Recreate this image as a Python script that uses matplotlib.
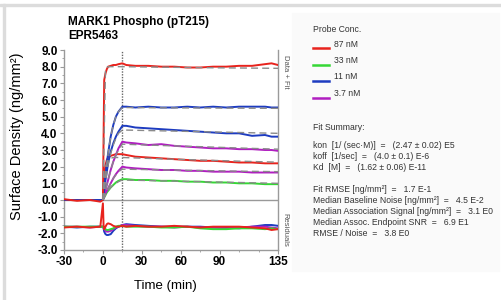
import matplotlib
matplotlib.use("Agg")
import matplotlib.pyplot as plt
from matplotlib.lines import Line2D
from matplotlib.patches import Rectangle
import numpy as np

plt.rcParams['font.family'] = ['Liberation Sans', 'DejaVu Sans']

# ---------------- data ----------------
t = [-30, -20, -10, -2, 0, 1, 2, 3, 4, 6, 8, 10, 12, 15, 18, 25, 35, 45, 55, 65, 75, 85, 95, 105, 115, 125, 130, 135]

red_a = [0.05, -0.05, 0.0, -0.1, 0.0, 7.2, 7.6, 7.85, 8.0, 8.05, 8.1, 8.1, 8.15, 8.2, 8.1, 8.05, 8.05, 8.0, 8.0, 7.95, 7.95, 8.0, 8.0, 8.05, 8.05, 8.15, 8.2, 8.1]
blue_a = [0.0, 0.0, 0.0, 0.0, 0.0, 0.8, 1.5, 2.2, 2.8, 3.8, 4.5, 5.0, 5.3, 5.6, 5.6, 5.55, 5.6, 5.55, 5.55, 5.6, 5.55, 5.6, 5.55, 5.6, 5.6, 5.6, 5.55, 5.55]
blue_b = [0.0, 0.0, 0.0, 0.0, 0.0, 0.6, 1.2, 1.7, 2.2, 2.9, 3.4, 3.8, 4.1, 4.45, 4.45, 4.35, 4.3, 4.25, 4.2, 4.15, 4.1, 4.05, 4.0, 4.0, 3.85, 3.9, 3.8, 3.8]
mag_a = [0.0, 0.0, 0.0, 0.0, 0.0, 0.3, 0.6, 0.9, 1.2, 1.8, 2.3, 2.7, 3.1, 3.5, 3.45, 3.4, 3.3, 3.35, 3.25, 3.2, 3.15, 3.1, 3.1, 3.05, 3.05, 3.0, 3.0, 2.95]
red_b = [0.0, 0.0, 0.0, 0.0, 0.0, 1.5, 2.1, 2.4, 2.55, 2.65, 2.7, 2.75, 2.75, 2.75, 2.7, 2.6, 2.55, 2.5, 2.45, 2.4, 2.35, 2.35, 2.3, 2.25, 2.25, 2.2, 2.2, 2.2]
mag_b = [0.0, 0.0, 0.0, 0.0, 0.0, 0.2, 0.4, 0.55, 0.7, 1.0, 1.3, 1.55, 1.75, 2.0, 1.95, 1.9, 1.85, 1.8, 1.8, 1.75, 1.75, 1.7, 1.7, 1.7, 1.65, 1.65, 1.65, 1.65]
green = [0.0, 0.0, 0.0, 0.0, 0.0, 0.15, 0.3, 0.45, 0.55, 0.75, 0.9, 1.05, 1.15, 1.25, 1.25, 1.2, 1.2, 1.15, 1.15, 1.1, 1.1, 1.05, 1.05, 1.0, 1.0, 0.95, 0.95, 0.95]

# fits (gray dashed)
t_fit = [0, 2, 4, 6, 8, 10, 12, 15, 45, 75, 105, 135]
fit_red_a = [0.0, 7.9, 8.0, 8.0, 8.0, 8.0, 8.0, 8.0, 7.97, 7.94, 7.92, 7.9]
fit_blue_a = [0.0, 1.5, 2.8, 3.8, 4.5, 5.0, 5.3, 5.55, 5.53, 5.52, 5.51, 5.5]
fit_blue_b = [0.0, 1.1, 2.1, 2.8, 3.3, 3.7, 4.0, 4.2, 4.15, 4.1, 4.05, 4.0]
fit_mag_a = [0.0, 0.6, 1.2, 1.8, 2.3, 2.7, 3.0, 3.35, 3.27, 3.2, 3.12, 3.05]
fit_red_b = [0.0, 2.0, 2.4, 2.5, 2.55, 2.55, 2.55, 2.55, 2.47, 2.4, 2.33, 2.27]
fit_mag_b = [0.0, 0.4, 0.7, 1.0, 1.3, 1.5, 1.7, 1.85, 1.81, 1.77, 1.73, 1.7]
fit_green = [0.0, 0.3, 0.55, 0.75, 0.9, 1.0, 1.1, 1.2, 1.15, 1.1, 1.05, 1.0]

# residuals (plotted with offset already included)
res_t = [-30, -20, -10, -2, 0, 0.5, 1, 2, 3, 4, 6, 8, 10, 12, 15, 18, 25, 35, 45, 55, 65, 75, 85, 95, 105, 115, 125, 130, 135]
res_blue = [-1.6, -1.65, -1.6, -1.6, -1.6, -1.7, -1.9, -2.05, -2.1, -2.1, -2.05, -1.85, -1.7, -1.6, -1.5, -1.45, -1.5, -1.55, -1.6, -1.6, -1.6, -1.6, -1.65, -1.65, -1.7, -1.6, -1.5, -1.5, -1.55]
res_mag = [-1.6, -1.6, -1.65, -1.6, -1.6, -1.65, -1.75, -1.85, -1.9, -1.9, -1.85, -1.75, -1.65, -1.6, -1.5, -1.5, -1.55, -1.6, -1.6, -1.65, -1.6, -1.65, -1.65, -1.7, -1.65, -1.6, -1.6, -1.65, -1.7]
res_green = [-1.6, -1.6, -1.6, -1.6, -1.6, -1.65, -1.7, -1.75, -1.8, -1.8, -1.75, -1.7, -1.6, -1.55, -1.55, -1.6, -1.6, -1.6, -1.65, -1.65, -1.6, -1.7, -1.75, -1.75, -1.7, -1.7, -1.75, -1.7, -1.75]
res_red = [-1.65, -1.6, -1.65, -1.6, -0.2, -1.5, -1.75, -1.6, -1.45, -1.4, -1.45, -1.55, -1.6, -1.6, -1.55, -1.6, -1.55, -1.6, -1.6, -1.55, -1.6, -1.65, -1.6, -1.6, -1.6, -1.65, -1.7, -1.8, -1.75]

legend_labels = ['87 nM', '33 nM', '11 nM', '3.7 nM']
c_red, c_green, c_blue, c_mag = '#e8231d', '#35d735', '#1e3cc0', '#b01ec0'
legend_colors = [c_red, c_green, c_blue, c_mag]

x_ticks = [-30, 0, 30, 60, 90, 135]
y_ticks = [-3, -2, -1, 0, 1, 2, 3, 4, 5, 6, 7, 8, 9]

summary_lines = [
    "kon  [1/ (sec\u00b7M)]  =   (2.47 \u00b1 0.02) E5",
    "koff  [1/sec]  =   (4.0 \u00b1 0.1) E-6",
    "Kd  [M]  =   (1.62 \u00b1 0.06) E-11",
    "",
    "Fit RMSE [ng/mm\u00b2]  =   1.7 E-1",
    "Median Baseline Noise [ng/mm\u00b2]  =   4.5 E-2",
    "Median Association Signal [ng/mm\u00b2]  =   3.1 E0",
    "Median Assoc. Endpoint SNR  =   6.9 E1",
    "RMSE / Noise  =   3.8 E0",
]

# ---------------- figure ----------------
W, H = 502, 300
fig = plt.figure(figsize=(W / 100, H / 100), dpi=100)
fig.patch.set_facecolor('white')

def fx(px):
    return px / W

def fy(py):
    return 1 - py / H

# outer frame bars
fig.patches.append(Rectangle((fx(0), fy(6)), 1, 2 / H, transform=fig.transFigure, color='#dcdcdc', zorder=0))
fig.patches.append(Rectangle((fx(3), 0), 2 / W, fy(4), transform=fig.transFigure, color='#dcdcdc', zorder=0))
# right panel background
fig.patches.append(Rectangle((fx(292), fy(271)), fx(499) - fx(292), (271 - 13) / H,
                             transform=fig.transFigure, color='#fafafa', zorder=0))

ax = fig.add_axes([fx(64), fy(250), fx(278) - fx(64), (250 - 50) / H])
ax.set_facecolor('white')
ax.set_xlim(-30, 135)
ax.set_ylim(-3, 9)

lw = 1.4
# zero baseline
ax.axhline(0, color='#999999', lw=1.0, zorder=1)
ax.axvline(15, color='#666666', lw=1.0, ls=(0, (1, 1)), zorder=1)

# data curves
for y, c in [(green, c_green), (mag_b, c_mag), (red_b, c_red), (mag_a, c_mag),
             (blue_b, c_blue), (blue_a, c_blue), (red_a, c_red)]:
    ax.plot(t, y, color=c, lw=lw, zorder=3)

for y in [fit_red_a, fit_blue_a, fit_blue_b, fit_mag_a, fit_red_b, fit_mag_b, fit_green]:
    ax.plot(t_fit, y, color='#8a8a8a', lw=1.0, ls=(0, (5, 3)), zorder=4)

for y, c in [(res_blue, c_blue), (res_mag, c_mag), (res_green, c_green), (res_red, c_red)]:
    ax.plot(res_t, y, color=c, lw=lw, zorder=3)

# axes styling
ax.spines['top'].set_visible(False)
for s in ['left', 'bottom', 'right']:
    ax.spines[s].set_color('#9a9a9a')
    ax.spines[s].set_linewidth(1.0)

ax.set_xticks(x_ticks)
ax.set_xticklabels([str(v) for v in x_ticks])
ax.set_xticks(list(range(-30, 136, 15)), minor=True)
ax.set_yticks(y_ticks)
ax.set_yticklabels(['%.1f' % v for v in y_ticks])
ax.set_yticks(list(np.arange(-3, 9.01, 0.5)), minor=True)
ax.tick_params(axis='both', which='major', labelsize=8.5, length=3, color='#9a9a9a', pad=1.5, width=0.8)
ax.tick_params(axis='both', which='minor', length=1.5, color='#9a9a9a', width=0.6)
ax.tick_params(axis='y', which='both', right=False)
for lab in ax.get_xticklabels() + ax.get_yticklabels():
    lab.set_fontweight('bold')

fig.text(fx(165), fy(286), 'Time (min)', fontsize=9.5, ha='center', va='center')
fig.text(fx(17), fy(136), 'Surface Density (ng/mm\u00b2)', fontsize=10.5, ha='center', va='center', rotation=90)

fig.text(fx(68), fy(22), 'MARK1 Phospho (pT215)', fontsize=8.5, fontweight='bold', ha='left', va='center')
fig.text(fx(68), fy(36), 'EPR5463', fontsize=8.5, fontweight='bold', ha='left', va='center')

fig.text(fx(285), fy(72), 'Data + Fit', fontsize=5.5, color='#555555', rotation=-90, ha='center', va='center')
fig.text(fx(285), fy(230), 'Residuals', fontsize=5.5, color='#555555', rotation=-90, ha='center', va='center')

# legend panel
fs = 6.2
fig.text(fx(313), fy(29), 'Probe Conc.', fontsize=fs, ha='left', va='center', color='#333333')
for i, (lab, c) in enumerate(zip(legend_labels, legend_colors)):
    yy = 46 + i * 16.5
    fig.add_artist(Line2D([fx(313), fx(329)], [fy(yy + 2), fy(yy + 2)], color=c, lw=1.8, transform=fig.transFigure))
    fig.text(fx(334), fy(yy - 2), lab, fontsize=fs, ha='left', va='center', color='#333333')

fig.text(fx(313), fy(127), 'Fit Summary:', fontsize=fs, ha='left', va='center', color='#333333')
for i, line in enumerate(summary_lines):
    fig.text(fx(313), fy(146 + i * 10.9), line, fontsize=fs, ha='left', va='center', color='#333333')

fig.savefig('out.png', dpi=100)
